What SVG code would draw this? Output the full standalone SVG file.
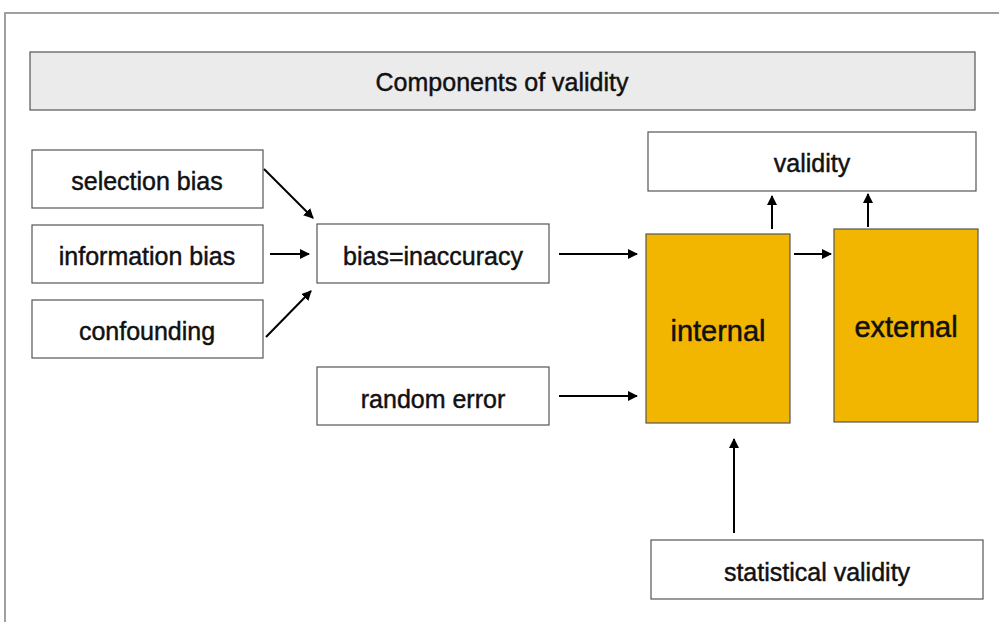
<svg xmlns="http://www.w3.org/2000/svg" width="999" height="622" viewBox="0 0 999 622">
<style>
.box{fill:#fff;stroke:#555;stroke-width:1.2}
.hl{fill:#f2b600;stroke:#555;stroke-width:1.2}
.t{font-family:"Liberation Sans",Arial,sans-serif;font-size:25px;fill:#111;stroke:#111;stroke-width:0.45;text-anchor:middle;dominant-baseline:central}
.big{font-size:29px;stroke-width:0.5}
.c{stroke:#000;stroke-width:2;fill:none;marker-end:url(#ah)}
</style>
<defs>
<marker id="ah" viewBox="0 0 10 10" refX="9" refY="5" markerWidth="5" markerHeight="5" orient="auto" markerUnits="strokeWidth">
<path d="M0,0 L10,5 L0,10 z" fill="#000"/>
</marker>
</defs>
<rect x="0" y="0" width="999" height="622" fill="#fff"/>
<path d="M5,622 V13 H999" fill="none" stroke="#a0a0a0" stroke-width="2"/>
<g id="title"><rect x="30" y="52" width="945" height="58" fill="#ebebeb" stroke="#555" stroke-width="1.2"/><text class="t" x="502" y="82">Components of validity</text></g>
<g id="selection"><rect class="box" x="32" y="150" width="231" height="58"/><text class="t" x="147" y="181">selection bias</text></g>
<g id="information"><rect class="box" x="32" y="225" width="231" height="58"/><text class="t" x="147" y="256">information bias</text></g>
<g id="confounding"><rect class="box" x="32" y="300" width="231" height="58"/><text class="t" x="147" y="331">confounding</text></g>
<g id="bias"><rect class="box" x="317" y="224" width="232" height="59"/><text class="t" x="433" y="256">bias=inaccuracy</text></g>
<g id="random"><rect class="box" x="317" y="367" width="232" height="58"/><text class="t" x="433" y="399">random error</text></g>
<g id="validity"><rect class="box" x="648" y="132" width="328" height="59"/><text class="t" x="812" y="163">validity</text></g>
<g id="internal"><rect class="hl" x="646" y="234" width="144" height="189"/><text class="t big" x="718" y="331">internal</text></g>
<g id="external"><rect class="hl" x="834" y="229" width="144" height="193"/><text class="t big" x="906" y="327">external</text></g>
<g id="statistical"><rect class="box" x="651" y="540" width="332" height="59"/><text class="t" x="817" y="572">statistical validity</text></g>
<g id="connectors">
<line class="c" x1="264" y1="169" x2="313" y2="218"/>
<line class="c" x1="270" y1="254" x2="309" y2="254"/>
<line class="c" x1="266" y1="337" x2="311" y2="291"/>
<line class="c" x1="559" y1="254" x2="637" y2="254"/>
<line class="c" x1="559" y1="396" x2="637" y2="396"/>
<line class="c" x1="794" y1="254" x2="831" y2="254"/>
<line class="c" x1="772" y1="229" x2="772" y2="196"/>
<line class="c" x1="868" y1="227" x2="868" y2="194"/>
<line class="c" x1="734" y1="533" x2="734" y2="439"/>
</g>
</svg>
